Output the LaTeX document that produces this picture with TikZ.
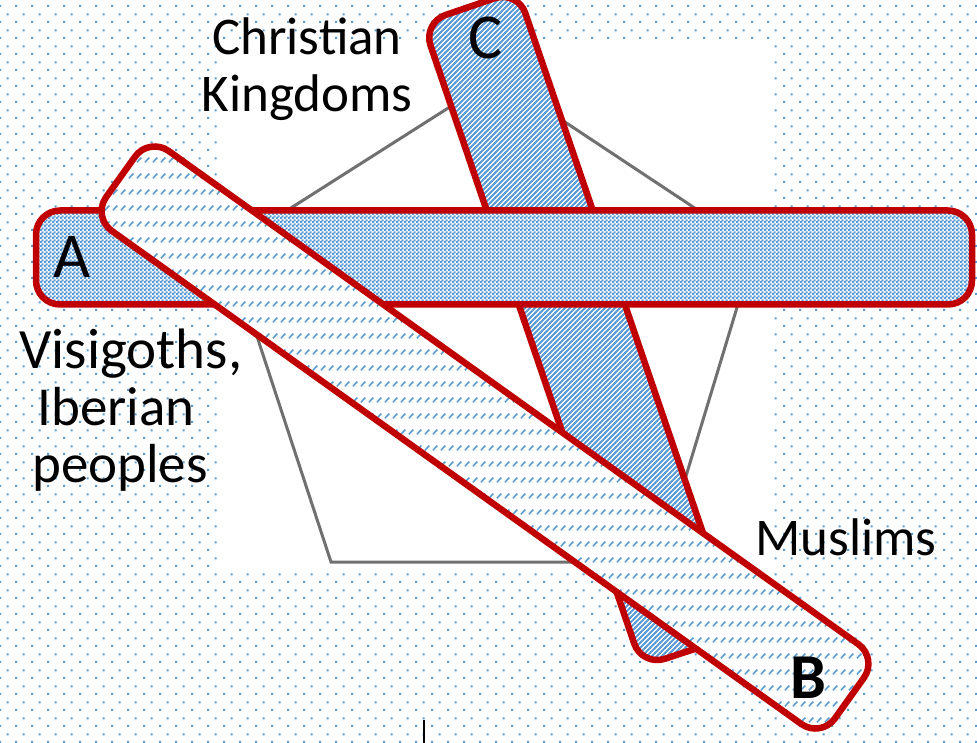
\documentclass[tikz,border=0pt]{standalone}
\usepackage{fontspec}
\setmainfont{Carlito}
\usetikzlibrary{patterns}
\definecolor{bblue}{RGB}{91,155,213}
\definecolor{dred}{RGB}{192,0,0}
\definecolor{pgray}{RGB}{112,112,112}
\pgfdeclarepatternformonly{bgdots}{\pgfpointorigin}{\pgfpoint{16pt}{16pt}}{\pgfpoint{16pt}{16pt}}{%
  \pgfpathrectangle{\pgfpoint{0pt}{0pt}}{\pgfpoint{2.2pt}{2.2pt}}%
  \pgfpathrectangle{\pgfpoint{8pt}{8pt}}{\pgfpoint{2.2pt}{2.2pt}}%
  \pgfusepath{fill}}
\pgfdeclarepatternformonly{checker}{\pgfpointorigin}{\pgfpoint{4pt}{4pt}}{\pgfpoint{4pt}{4pt}}{%
  \pgfpathrectangle{\pgfpoint{0pt}{0pt}}{\pgfpoint{2.5pt}{2.5pt}}%
  \pgfpathrectangle{\pgfpoint{2pt}{2pt}}{\pgfpoint{2.5pt}{2.5pt}}%
  \pgfusepath{fill}}
\pgfdeclarepatternformonly{diaglines}{\pgfpoint{-1pt}{-1pt}}{\pgfpoint{6pt}{6pt}}{\pgfpoint{5pt}{5pt}}{%
  \pgfsetlinewidth{1.9pt}%
  \pgfpathmoveto{\pgfpoint{-1pt}{-1pt}}\pgfpathlineto{\pgfpoint{6pt}{6pt}}%
  \pgfusepath{stroke}}
\pgfdeclarepatternformonly{dashdiag}{\pgfpointorigin}{\pgfpoint{8pt}{16pt}}{\pgfpoint{8pt}{16pt}}{%
  \pgfsetlinewidth{1.7pt}%
  \pgfpathmoveto{\pgfpoint{1pt}{5pt}}\pgfpathlineto{\pgfpoint{6pt}{10pt}}%
  \pgfusepath{stroke}}
\tikzset{
  bar/.style={draw=dred, line width=6.5pt, rounded corners=24pt, line join=round},
  lbl/.style={inner sep=0pt, anchor=base, font=\fontsize{53}{60}\selectfont},
  letter/.style={inner sep=0pt, anchor=base, font=\fontsize{64}{70}\selectfont},
  pent/.style={draw=pgray, line width=3pt, line join=miter}
}
\begin{document}
\begin{tikzpicture}[x=1pt,y=-1pt]
\useasboundingbox (0,0) rectangle (977,743);
% background
\fill[white] (0,0) rectangle (977,743);
\fill[pattern=bgdots, pattern color=bblue] (0,0) rectangle (977,743);
% pentagon picture
\fill[white] (217,43) rectangle (773,573);
\draw[pent] (497,77) -- (755,248) -- (660,562) -- (331,562) -- (228,248) -- cycle;
% bar C
\draw[bar, preaction={fill=white}, pattern=diaglines, pattern color=bblue]
  (422.75,22.75) -- (517.55,-9.55) -- (737.75,634.75) -- (641.95,666.35) -- cycle;
% bar A
\draw[bar, preaction={fill=white}, pattern=checker, pattern color=bblue]
  (36,210.5) rectangle (972,304.5);
% bar B
\draw[bar, preaction={fill=white}, pattern=dashdiag, pattern color=bblue]
  (149.1,137.0) -- (877.9,658.2) -- (820.9,738.0) -- (92.1,216.8) -- cycle;
% letters
\node[letter] (la) at (72.5,278) {A};
\node[letter] (lc) at (486,59) {C};
\node[letter, font=\fontsize{64}{70}\selectfont\bfseries] (lb) at (808,698) {B};
% labels
\node[lbl] (ck1) at (307,55) {Christian};
\node[lbl] (ck2) at (307,112) {Kingdoms};
\node[lbl, font=\fontsize{57}{60}\selectfont] (vi1) at (131,368) {Visigoths,};
\node[lbl, font=\fontsize{55}{60}\selectfont] (vi2) at (116,425) {Iberian};
\node[lbl, font=\fontsize{55}{60}\selectfont] (vi3) at (120,482) {peoples};
\node[lbl, anchor=base west] (mu) at (755,555) {Muslims};
% small mark
\coordinate (m1) at (424,720);
\coordinate (m2) at (424,743);
\draw[line width=1.5pt] (m1) -- (m2);
\end{tikzpicture}
\end{document}
